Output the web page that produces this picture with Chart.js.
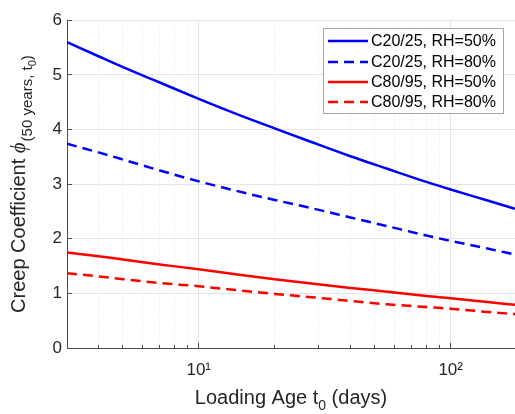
<!DOCTYPE html>
<html lang="en">
<head>
    <meta charset="UTF-8">
    <title>Creep Coefficient vs Loading Age</title>
    <script src="https://cdn.jsdelivr.net/npm/chart.js"></script>
    <style>
        html, body { margin: 0; padding: 0; background: #fff; }
    </style>
</head>
<body>
    <canvas id="creepChart" width="515" height="414"></canvas>

    <script>
        // loading age t0 in days (x values)
        const loadingAge = [3, 4, 5, 7, 10, 14, 20, 28, 40, 56, 80, 100, 140, 180];

        // creep coefficient phi(50 years, t0)
        const c2025rh50 = [5.60, 5.34, 5.14, 4.86, 4.56, 4.29, 4.02, 3.77, 3.51, 3.28, 3.04, 2.90, 2.70, 2.55];
        const c2025rh80 = [3.74, 3.58, 3.45, 3.25, 3.05, 2.88, 2.71, 2.56, 2.39, 2.23, 2.06, 1.96, 1.82, 1.71];
        const c8095rh50 = [1.75, 1.68, 1.62, 1.53, 1.44, 1.35, 1.26, 1.18, 1.10, 1.03, 0.95, 0.91, 0.84, 0.79];
        const c8095rh80 = [1.37, 1.31, 1.26, 1.19, 1.13, 1.06, 0.99, 0.93, 0.86, 0.80, 0.75, 0.72, 0.66, 0.62];

        const seriesLabels = ['C20/25, RH=50%', 'C20/25, RH=80%', 'C80/95, RH=50%', 'C80/95, RH=80%'];

        // axis ticks
        const xMajorTicks = [10, 100];
        const xMajorLabels = ['10\u00B9', '10\u00B2'];
        const xMinorTicks = [4, 5, 6, 7, 8, 9, 20, 30, 40, 50, 60, 70, 80, 90];
        const xMin = 3, xMax = 180;
        const yMin = 0, yMax = 6;

        const toPoints = ys => ys.map((y, i) => ({ x: loadingAge[i], y: y }));

        const gridColor = '#e4e4e4';
        const axisColor = '#4d4d4d';
        const textColor = '#262626';
        const sansFont = '"Liberation Sans", Arial, sans-serif';

        function makeDataset(label, values, color, dashed) {
            return {
                label: label,
                data: toPoints(values),
                borderColor: color,
                borderWidth: 2.5,
                borderDash: dashed ? [10, 6] : [],
                pointRadius: 0,
                fill: false,
                cubicInterpolationMode: 'monotone'
            };
        }

        // axis titles with subscripts, drawn after the chart
        const titlesPlugin = {
            id: 'axisTitles',
            afterDraw(chart) {
                const ctx = chart.ctx;
                const area = chart.chartArea;
                ctx.save();
                ctx.fillStyle = textColor;
                ctx.textBaseline = 'alphabetic';
                ctx.textAlign = 'left';

                function drawParts(parts, cx, cy) {
                    let total = 0;
                    parts.forEach(p => { ctx.font = p.font; p.w = ctx.measureText(p.text).width + (p.gap || 0); total += p.w; });
                    let x = cx - total / 2;
                    parts.forEach(p => { ctx.font = p.font; ctx.fillText(p.text, x, cy + p.dy); x += p.w; });
                }

                // x title
                const xParts = [
                    { text: 'Loading Age t', font: '20px ' + sansFont, dy: 0 },
                    { text: '0', font: '14px ' + sansFont, dy: 6 },
                    { text: ' (days)', font: '20px ' + sansFont, dy: 0 }
                ];
                drawParts(xParts, (area.left + area.right) / 2, 404);

                // y title
                ctx.translate(25, (area.top + area.bottom) / 2);
                ctx.rotate(-Math.PI / 2);
                const yParts = [
                    { text: 'Creep Coefficient ', font: '20px ' + sansFont, dy: 0 },
                    { text: '\u03D5', font: 'italic 21px "Liberation Serif", serif', dy: 0, gap: 1 },
                    { text: '(50 years, t', font: '15px ' + sansFont, dy: 7 },
                    { text: '0', font: '11px ' + sansFont, dy: 11 },
                    { text: ')', font: '15px ' + sansFont, dy: 7 }
                ];
                drawParts(yParts, 0, 0);
                ctx.restore();
            }
        };

        // legend box in the upper right of the plot
        const legendPlugin = {
            id: 'boxLegend',
            afterDraw(chart) {
                const ctx = chart.ctx;
                const left = 323, top = 28, width = 180, height = 85;
                const rowY = [41, 62, 82, 102];
                ctx.save();
                ctx.fillStyle = '#fff';
                ctx.fillRect(left, top, width, height);
                ctx.strokeStyle = '#a6a6a6';
                ctx.lineWidth = 1;
                ctx.strokeRect(left + 0.5, top + 0.5, width, height);
                chart.data.datasets.forEach((ds, i) => {
                    ctx.strokeStyle = ds.borderColor;
                    ctx.lineWidth = ds.borderWidth;
                    ctx.setLineDash(ds.borderDash);
                    ctx.beginPath();
                    ctx.moveTo(328, rowY[i]);
                    ctx.lineTo(368, rowY[i]);
                    ctx.stroke();
                    ctx.setLineDash([]);
                    ctx.fillStyle = '#000';
                    ctx.font = '16px ' + sansFont;
                    ctx.textBaseline = 'middle';
                    ctx.fillText(ds.label, 371, rowY[i] + 1);
                });
                ctx.restore();
            }
        };

        const ctx = document.getElementById('creepChart').getContext('2d');
        const creepChart = new Chart(ctx, {
            type: 'line',
            data: {
                datasets: [
                    makeDataset(seriesLabels[0], c2025rh50, '#0000ff', false),
                    makeDataset(seriesLabels[1], c2025rh80, '#0000ff', true),
                    makeDataset(seriesLabels[2], c8095rh50, '#ff0000', false),
                    makeDataset(seriesLabels[3], c8095rh80, '#ff0000', true)
                ]
            },
            options: {
                responsive: false,
                animation: false,
                layout: { padding: { top: 16, left: 0, right: 0, bottom: 0 } },
                plugins: {
                    legend: { display: false },
                    tooltip: { enabled: false }
                },
                scales: {
                    x: {
                        type: 'logarithmic',
                        position: 'bottom',
                        weight: 1,
                        min: xMin,
                        max: xMax,
                        afterBuildTicks: scale => { scale.ticks = xMajorTicks.map(v => ({ value: v })); },
                        afterFit: scale => { scale.height = 66; },
                        ticks: {
                            autoSkip: false,
                            maxRotation: 0,
                            padding: 17,
                            color: textColor,
                            font: { family: sansFont, size: 17 },
                            callback: value => xMajorLabels[xMajorTicks.indexOf(value)] || ''
                        },
                        // negative tick length puts the tick marks inside the plot
                        grid: { color: gridColor, drawTicks: true, tickLength: -5, tickColor: axisColor },
                        border: { display: true, color: axisColor, width: 1 }
                    },
                    xMinor: {
                        type: 'logarithmic',
                        position: 'bottom',
                        weight: 0,
                        min: xMin,
                        max: xMax,
                        afterBuildTicks: scale => { scale.ticks = xMinorTicks.map(v => ({ value: v })); },
                        afterFit: scale => { scale.height = 0; },
                        ticks: { display: false },
                        grid: { color: gridColor, drawTicks: true, tickLength: -3, tickColor: axisColor },
                        border: { display: false, dash: [1, 2] }
                    },
                    y: {
                        min: yMin,
                        max: yMax,
                        afterFit: scale => { scale.width = 67; },
                        ticks: {
                            stepSize: 1,
                            padding: 10,
                            color: textColor,
                            font: { family: sansFont, size: 17 }
                        },
                        grid: { color: gridColor, drawTicks: true, tickLength: -5, tickColor: axisColor },
                        border: { display: true, color: axisColor, width: 1 }
                    }
                }
            },
            plugins: [titlesPlugin, legendPlugin]
        });
    </script>
</body>
</html>
